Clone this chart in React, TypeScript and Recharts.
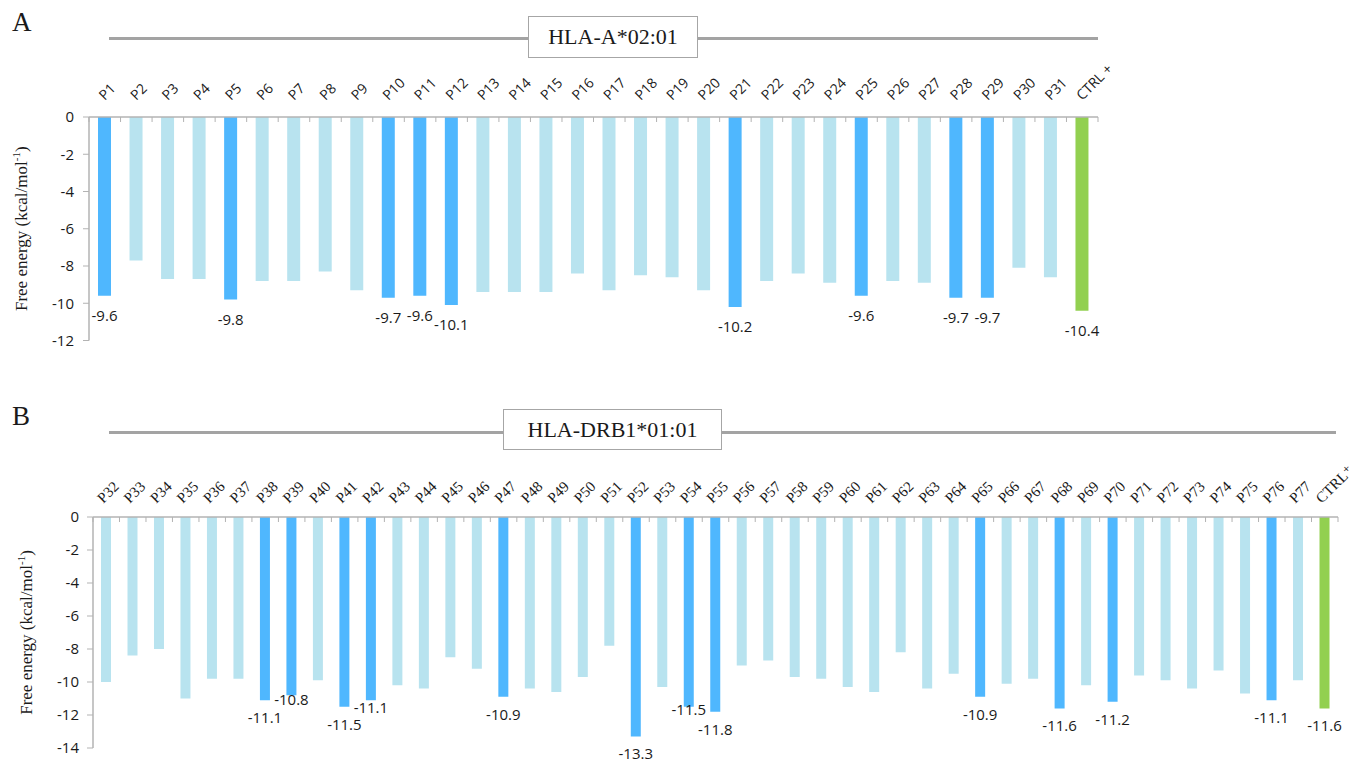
import React from 'react';
import { BarChart, Bar, XAxis, YAxis, Cell, LabelList } from 'recharts';

// ---- panel A: HLA-A*02:01 ----
const peptidesA = [
  'P1', 'P2', 'P3', 'P4', 'P5', 'P6', 'P7', 'P8', 'P9', 'P10', 'P11', 'P12', 'P13', 'P14', 'P15', 'P16',
  'P17', 'P18', 'P19', 'P20', 'P21', 'P22', 'P23', 'P24', 'P25', 'P26', 'P27', 'P28', 'P29', 'P30', 'P31', 'CTRL +',
];
const energyA = [
  -9.6, -7.7, -8.7, -8.7, -9.8, -8.8, -8.8, -8.3, -9.3, -9.7, -9.6, -10.1, -9.4, -9.4, -9.4, -8.4,
  -9.3, -8.5, -8.6, -9.3, -10.2, -8.8, -8.4, -8.9, -9.6, -8.8, -8.9, -9.7, -9.7, -8.1, -8.6, -10.4,
];
const bestA = ['P1', 'P5', 'P10', 'P11', 'P12', 'P21', 'P25', 'P28', 'P29'];
const ticksA = [0, -2, -4, -6, -8, -10, -12];

// ---- panel B: HLA-DRB1*01:01 ----
const peptidesB = [
  'P32', 'P33', 'P34', 'P35', 'P36', 'P37', 'P38', 'P39', 'P40', 'P41', 'P42', 'P43', 'P44', 'P45', 'P46', 'P47',
  'P48', 'P49', 'P50', 'P51', 'P52', 'P53', 'P54', 'P55', 'P56', 'P57', 'P58', 'P59', 'P60', 'P61', 'P62', 'P63',
  'P64', 'P65', 'P66', 'P67', 'P68', 'P69', 'P70', 'P71', 'P72', 'P73', 'P74', 'P75', 'P76', 'P77', 'CTRL\u207A',
];
const energyB = [
  -10.0, -8.4, -8.0, -11.0, -9.8, -9.8, -11.1, -10.8, -9.9, -11.5, -11.1, -10.2, -10.4, -8.5, -9.2, -10.9,
  -10.4, -10.6, -9.7, -7.8, -13.3, -10.3, -11.5, -11.8, -9.0, -8.7, -9.7, -9.8, -10.3, -10.6, -8.2, -10.4,
  -9.5, -10.9, -10.1, -9.8, -11.6, -10.2, -11.2, -9.6, -9.9, -10.4, -9.3, -10.7, -11.1, -9.9, -11.6,
];
const bestB = ['P38', 'P39', 'P41', 'P42', 'P47', 'P52', 'P54', 'P55', 'P65', 'P68', 'P70', 'P76'];
const ticksB = [0, -2, -4, -6, -8, -10, -12, -14];

// label nudges (px, negative = up) where the labels were moved by hand in the original
const labelNudgeB: Record<string, number> = { P39: -13, P42: -10, P54: -15 };

const LIGHT = '#b8e3ef';
const DARK = '#4fb7fe';
const GREEN = '#92d050';
const AXIS = '#b3b3b3';
const INK = '#1a1a1a';
const SANS = '"Open Sans", "Noto Sans", sans-serif';
const SERIF = '"Liberation Serif", "DejaVu Serif", serif';

const W = 1356;

type Row = { name: string; energy: number; tag: string; kind: 'ctrl' | 'best' | 'plain'; nudge: number };

function buildRows(names: string[], values: number[], best: string[], nudge: Record<string, number>): Row[] {
  return names.map((name, i) => {
    const isCtrl = i === names.length - 1;
    const isBest = best.includes(name);
    return {
      name,
      energy: values[i],
      tag: isCtrl || isBest ? values[i].toFixed(1) : '',
      kind: isCtrl ? 'ctrl' : isBest ? 'best' : 'plain',
      nudge: nudge[name] ?? 0,
    };
  });
}

const rowsA = buildRows(peptidesA, energyA, bestA, {});
const rowsB = buildRows(peptidesB, energyB, bestB, labelNudgeB);

interface PanelProps {
  rows: Row[];
  ticks: number[];
  letter: string;
  title: string;
  top: number;
  height: number;
  margin: { top: number; right: number; bottom: number; left: number };
  barSize: number;
  tickFont: string;
  tickFontSize: number;
  tickLift: number;
  tickShift: number;
  tagDrop: number;
  yTickSize: number;
  yTickMargin: number;
  titleLineY: number;
  titleLineRight: number;
  box: { left: number; top: number; width: number; height: number };
  yLabelX: number;
}

function Panel(p: PanelProps) {
  const plotW = W - p.margin.left - 60 - p.margin.right;
  const band = plotW / p.rows.length;
  const plotTop = p.margin.top + 30;
  const plotBottom = p.height - p.margin.bottom;

  const CategoryTick = (t: any) => {
    const { x, index, payload } = t;
    const y = plotTop;
    const tx = x + p.tickShift;
    const ty = y - p.tickLift;
    return (
      <g>
        <line x1={x - band / 2} y1={y} x2={x - band / 2} y2={y + 5} stroke={AXIS} strokeWidth={1} />
        {index === p.rows.length - 1 && (
          <line x1={x + band / 2} y1={y} x2={x + band / 2} y2={y + 5} stroke={AXIS} strokeWidth={1} />
        )}
        <text
          x={tx}
          y={ty}
          transform={`rotate(-45 ${tx} ${ty})`}
          textAnchor="start"
          fontFamily={p.tickFont}
          fontSize={p.tickFontSize}
          fill={INK}
        >
          {payload.value}
        </text>
      </g>
    );
  };

  const renderTag = (l: any) => {
    const { x, y, width, height, value, index } = l;
    if (!value) return null;
    const bottom = Math.max(y, y + height);
    const row = p.rows[index];
    return (
      <text
        x={x + width / 2}
        y={bottom + p.tagDrop + (row ? row.nudge : 0)}
        textAnchor="middle"
        fontFamily={SANS}
        fontSize={15}
        fill={INK}
      >
        {value}
      </text>
    );
  };

  const yMid = (plotTop + plotBottom) / 2;

  return (
    <div style={{ position: 'absolute', left: 0, top: p.top, width: W, height: p.height }}>
      <div
        style={{
          position: 'absolute', left: 12, top: p.titleLineY - 31, fontFamily: SERIF, fontSize: 27, color: INK,
        }}
      >
        {p.letter}
      </div>
      <div
        style={{
          position: 'absolute', left: 109, top: p.titleLineY - 1, width: p.titleLineRight - 109, height: 2.5,
          background: '#a3a3a3',
        }}
      />
      <div
        style={{
          position: 'absolute', left: p.box.left, top: p.box.top, width: p.box.width, height: p.box.height,
          boxSizing: 'border-box', border: '1.5px solid #a6a6a6', background: '#fff',
          display: 'flex', alignItems: 'center', justifyContent: 'center',
          fontFamily: SERIF, fontSize: 22, color: INK,
        }}
      >
        {p.title}
      </div>
      <BarChart
        width={W}
        height={p.height}
        data={p.rows}
        margin={p.margin}
        style={{ position: 'absolute', left: 0, top: 0, overflow: 'visible' }}
      >
        <XAxis
          dataKey="name"
          orientation="top"
          height={30}
          interval={0}
          tickLine={false}
          tickSize={0}
          tickMargin={0}
          axisLine={{ stroke: AXIS, strokeWidth: 1.5 }}
          tick={CategoryTick}
        />
        <YAxis
          width={60}
          domain={[p.ticks[p.ticks.length - 1], 0]}
          ticks={p.ticks}
          interval={0}
          allowDataOverflow
          tickSize={p.yTickSize}
          tickMargin={p.yTickMargin}
          tickLine={{ stroke: AXIS }}
          axisLine={{ stroke: AXIS, strokeWidth: 1.5 }}
          tick={{ fill: INK, fontFamily: SANS, fontSize: 15 }}
          label={() => (
            <text
              x={p.yLabelX}
              y={yMid}
              transform={`rotate(-90 ${p.yLabelX} ${yMid})`}
              textAnchor="middle"
              fontFamily={SERIF}
              fontSize={17}
              fill={INK}
            >
              Free energy (kcal/mol
              <tspan fontSize={11} dy={-7}>-1</tspan>
              <tspan dy={7}>)</tspan>
            </text>
          )}
        />
        <Bar dataKey="energy" barSize={p.barSize} isAnimationActive={false}>
          {p.rows.map((r) => (
            <Cell key={r.name} fill={r.kind === 'ctrl' ? GREEN : r.kind === 'best' ? DARK : LIGHT} />
          ))}
          <LabelList dataKey="tag" content={renderTag} />
        </Bar>
      </BarChart>
    </div>
  );
}

export default function App() {
  return (
    <div style={{ position: 'absolute', left: 0, top: 0, width: W, height: 763, background: '#fff', overflow: 'hidden' }}>
      <Panel
        rows={rowsA}
        ticks={ticksA}
        letter="A"
        title="HLA-A*02:01"
        top={0}
        height={360}
        margin={{ top: 87, right: 258, bottom: 19.5, left: 29 }}
        barSize={13}
        tickFont={SANS}
        tickFontSize={14}
        tickLift={16}
        tickShift={0}
        tagDrop={25}
        yTickSize={6}
        yTickMargin={9}
        titleLineY={38}
        titleLineRight={1098}
        box={{ left: 528, top: 16, width: 170, height: 42 }}
        yLabelX={27}
      />
      <Panel
        rows={rowsB}
        ticks={ticksB}
        letter="B"
        title="HLA-DRB1*01:01"
        top={390}
        height={373}
        margin={{ top: 97, right: 18, bottom: 15, left: 33 }}
        barSize={10}
        tickFont={SERIF}
        tickFontSize={15}
        tickLift={13}
        tickShift={-3}
        tagDrop={23}
        yTickSize={6}
        yTickMargin={8}
        titleLineY={42}
        titleLineRight={1336}
        box={{ left: 503, top: 19, width: 219, height: 41 }}
        yLabelX={32}
      />
    </div>
  );
}
